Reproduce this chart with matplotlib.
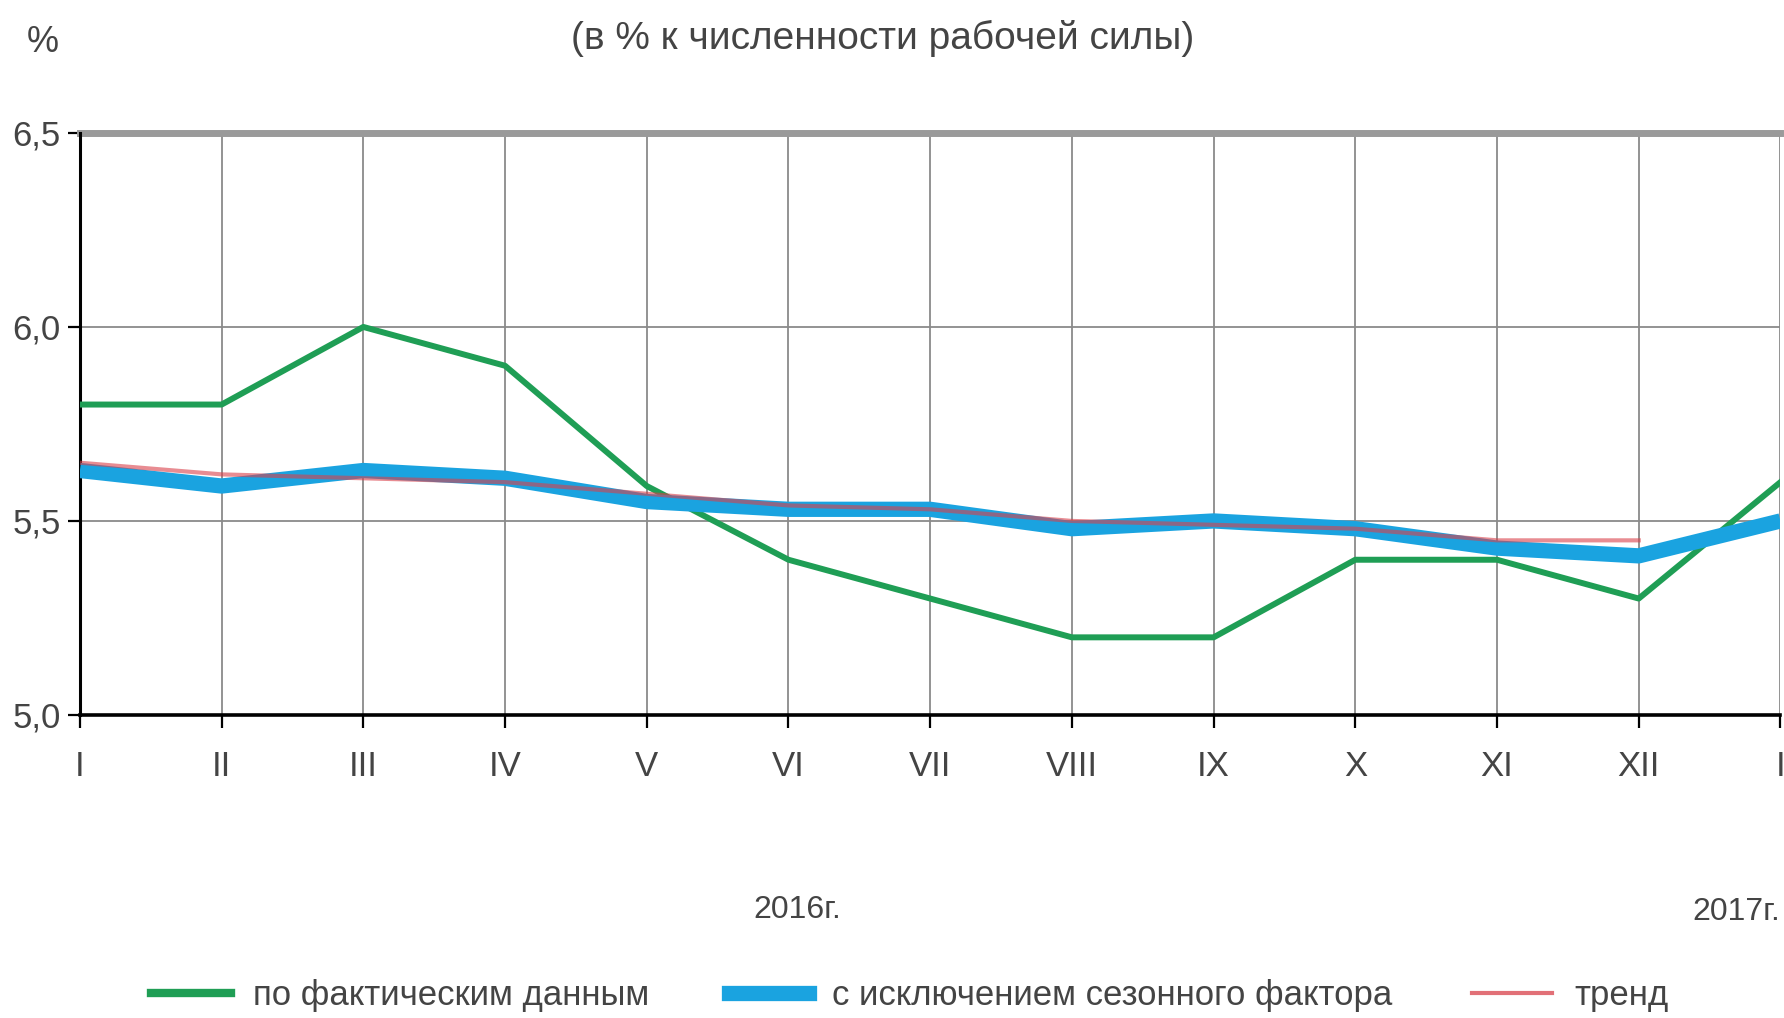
import matplotlib
matplotlib.use("Agg")
import matplotlib.pyplot as plt
from matplotlib.lines import Line2D

plt.rcParams["font.family"] = ["Liberation Sans Narrow", "Liberation Sans", "DejaVu Sans"]

months = ["I", "II", "III", "IV", "V", "VI", "VII", "VIII", "IX", "X", "XI", "XII", "I"]
actual = [5.8, 5.8, 6.0, 5.9, 5.59, 5.4, 5.3, 5.2, 5.2, 5.4, 5.4, 5.3, 5.6]
seasonal = [5.63, 5.59, 5.63, 5.61, 5.55, 5.53, 5.53, 5.48, 5.50, 5.48, 5.43, 5.41, 5.50]
trend = [5.65, 5.62, 5.61, 5.60, 5.57, 5.54, 5.53, 5.50, 5.49, 5.48, 5.45, 5.45]
yticks = [5.0, 5.5, 6.0, 6.5]
ytick_labels = ["5,0", "5,5", "6,0", "6,5"]

GREEN, BLUE, RED = "#1f9e55", "#1aa3e0", "#d9404a"
TXT = "#444444"

fig = plt.figure(figsize=(17.84, 10.18), dpi=100)
ax = fig.add_axes([0.0448, 0.2977, 0.9532, 0.5717])

x = list(range(len(months)))
ax.plot(x, actual, color=GREEN, lw=4.3, zorder=3)
ax.plot(x, seasonal, color=BLUE, lw=11, zorder=4, solid_capstyle="butt")
# trend sits on top of the blue band, semi-transparent so the overlap reads dark
ax.plot(x[:len(trend)], trend, color=RED, lw=3.0, alpha=0.6, zorder=5)

ax.set_xlim(0, 12)
ax.set_ylim(5.0, 6.5)
ax.set_xticks(x)
ax.set_xticklabels(months)
ax.set_yticks(yticks)
ax.set_yticklabels(ytick_labels)
ax.grid(True, color="#8a8a8a", lw=1.3)
ax.set_axisbelow(True)
for s in ("top", "right"):
    ax.spines[s].set_visible(False)
ax.spines["left"].set_color("black"); ax.spines["left"].set_linewidth(2.2)
ax.spines["bottom"].set_color("black"); ax.spines["bottom"].set_linewidth(2.6)
ax.axhline(6.5, color="#9a9a9a", lw=5, zorder=1, clip_on=False)
ax.tick_params(axis="both", colors="black", length=9, width=1.6, labelcolor=TXT, labelsize=25)
ax.tick_params(axis="x", pad=16)
ax.tick_params(axis="y", pad=5)

fig.text(0.495, 0.962, "(в % к численности рабочей силы)", ha="center", va="center", fontsize=28, color=TXT)
fig.text(0.024, 0.958, "%", ha="center", va="center", fontsize=26, color=TXT)
fig.text(0.447, 0.106, "2016г.", ha="center", va="center", fontsize=23, color=TXT)
fig.text(0.973, 0.104, "2017г.", ha="center", va="center", fontsize=23, color=TXT)

handles = [Line2D([], [], color=GREEN, lw=6),
           Line2D([], [], color=BLUE, lw=11),
           Line2D([], [], color=RED, lw=3, alpha=0.75)]
labels = ["по фактическим данным", "с исключением сезонного фактора", "тренд"]
fig.legend(handles, labels, loc="center", bbox_to_anchor=(0.51, 0.022), ncol=3, frameon=False,
           fontsize=25, labelcolor=TXT, handlelength=2.3, columnspacing=2.3, handletextpad=0.65)

fig.savefig("out.png", dpi=100)
